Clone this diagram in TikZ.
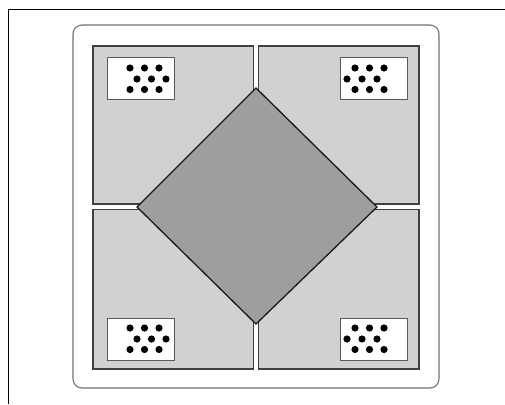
\documentclass[tikz,border=0pt]{standalone}
\begin{document}
\begin{tikzpicture}[x=1pt,y=-1pt,
  frameline/.style={draw=black,line width=0.9pt},
  outerbox/.style={draw=black!55,fill=white,line width=1.1pt,rounded corners=9pt},
  quad/.style={draw=black!75,fill=black!18,line width=1.2pt},
  centre/.style={draw=black!90,fill=black!38,line width=1.3pt,line join=miter},
  dotbox/.style={draw=black!65,fill=white,line width=1pt},
  dotmark/.style={fill=black}]
\useasboundingbox (0,0) rectangle (505,404);
% frame lines
\draw[frameline] (505,9) -- (8,9) -- (8,404);
% outer rounded box
\draw[outerbox] (73,25) rectangle (439,388);
% quadrants
\draw[quad] (93,46) rectangle (253.5,204);
\draw[quad] (258.5,46) rectangle (419,204);
\draw[quad] (93,209.5) rectangle (253.5,369);
\draw[quad] (258.5,209.5) rectangle (419,369);
% centre diamond
\coordinate (dt) at (256,88);
\coordinate (dr) at (377,207);
\coordinate (db) at (256,324);
\coordinate (dl) at (137,207);
\draw[centre] (dt) -- (dr) -- (db) -- (dl) -- cycle;
% dot boxes
\newcommand{\dotsL}[2]{%
  \foreach \dx/\dy in {0/0,14.5/0,29/0,7/11,21.5/11,36/11,0/21.5,14.5/21.5,29/21.5}
    \fill[dotmark] (#1+\dx,#2+\dy) circle (3.6pt);}
\newcommand{\dotsR}[2]{%
  \foreach \dx/\dy in {8/0,22.5/0,37/0,0/11,15/11,30/11,8/21.5,22.5/21.5,37/21.5}
    \fill[dotmark] (#1+\dx,#2+\dy) circle (3.6pt);}
\draw[dotbox] (107,57) rectangle (174,99.5);
\dotsL{130}{68}
\draw[dotbox] (340,57) rectangle (407.5,99.5);
\dotsR{347}{68}
\draw[dotbox] (107,318) rectangle (174,360.5);
\dotsL{130}{328}
\draw[dotbox] (340,318) rectangle (407.5,360.5);
\dotsR{347}{328}
\end{tikzpicture}
\end{document}
